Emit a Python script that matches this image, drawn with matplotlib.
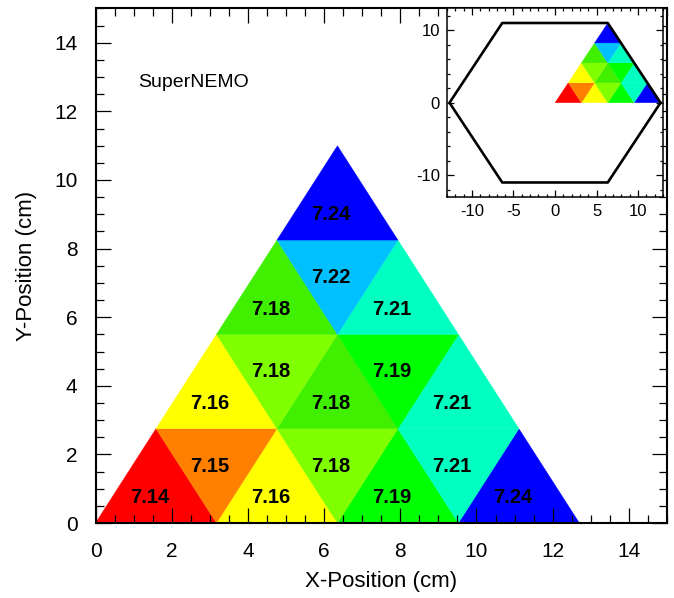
import numpy as np
import matplotlib.pyplot as plt
from matplotlib.patches import Polygon
from matplotlib.ticker import MultipleLocator

plt.rcParams['font.family'] = ['Liberation Sans', 'DejaVu Sans']
plt.rcParams['axes.unicode_minus'] = False

# Geometry of the SuperNEMO triangle (cm)
SIDE = 12.7
N_ROWS = 4

# Values per row, bottom to top: upward triangles, then downward triangles
up_values = [[7.14, 7.16, 7.19, 7.24],
             [7.16, 7.18, 7.21],
             [7.18, 7.21],
             [7.24]]
down_values = [[7.15, 7.18, 7.21],
               [7.18, 7.19],
               [7.22],
               []]
up_colors = [['#ff0000', '#ffff00', '#00ff00', '#0000ff'],
             ['#ffff00', '#40f000', '#00ffc0'],
             ['#40f000', '#00ffc0'],
             ['#0000ff']]
down_colors = [['#ff8000', '#80ff00', '#00ffc0'],
               ['#80ff00', '#00ff00'],
               ['#00c0ff'],
               []]

hexagon_x = [12.7, 6.35, -6.35, -12.7, -6.35, 6.35, 12.7]
hexagon_y = [0, 11, 11, 0, -11, -11, 0]

LABEL_SHIFT = (-0.17, -0.18)


def cells():
    a = SIDE / N_ROWS
    h = a * np.sqrt(3) / 2
    out = []
    for r in range(N_ROWS):
        y0 = r * h
        for i, (v, c) in enumerate(zip(up_values[r], up_colors[r])):
            x0 = r * a / 2 + i * a
            pts = [(x0, y0), (x0 + a, y0), (x0 + a / 2, y0 + h)]
            out.append((pts, v, c))
        for i, (v, c) in enumerate(zip(down_values[r], down_colors[r])):
            x0 = r * a / 2 + i * a
            pts = [(x0 + a / 2, y0 + h), (x0 + 3 * a / 2, y0 + h), (x0 + a, y0)]
            out.append((pts, v, c))
    return out


def style_axes(ax, lw, major, minor):
    for s in ax.spines.values():
        s.set_linewidth(lw)
    ax.tick_params(which='both', direction='in', top=True, right=True, width=0.9)
    ax.tick_params(which='major', length=major)
    ax.tick_params(which='minor', length=minor)


fig = plt.figure(figsize=(6.74, 5.98), dpi=100)
ax = fig.add_axes([0.1417, 0.1254, 0.8479, 0.8604])

for pts, v, c in cells():
    ax.add_patch(Polygon(pts, closed=True, facecolor=c, edgecolor=c, linewidth=0.3))
    cx = np.mean([p[0] for p in pts]) + LABEL_SHIFT[0]
    cy = np.mean([p[1] for p in pts]) + LABEL_SHIFT[1]
    ax.text(cx, cy, f'{v:.2f}', ha='center', va='center', fontsize=14.5,
            fontweight='bold', color='black')

ax.set_xlim(0, 15)
ax.set_ylim(0, 15)
ax.xaxis.set_major_locator(MultipleLocator(2))
ax.xaxis.set_minor_locator(MultipleLocator(0.5))
ax.yaxis.set_major_locator(MultipleLocator(2))
ax.yaxis.set_minor_locator(MultipleLocator(0.5))
style_axes(ax, 1.5, 11, 5.5)
ax.tick_params(labelsize=15)
ax.tick_params(axis='x', pad=14)
ax.tick_params(axis='y', pad=13)
ax.set_xlabel('X-Position (cm)', fontsize=16, labelpad=7)
ax.set_ylabel('Y-Position (cm)', fontsize=16, labelpad=12)
ax.text(1.13, 12.83, 'SuperNEMO', fontsize=14, ha='left', va='center')

# inset with the full hexagon
ins = fig.add_axes([0.6632, 0.6706, 0.3205, 0.3152])
for pts, v, c in cells():
    ins.add_patch(Polygon(pts, closed=True, facecolor=c, edgecolor=c, linewidth=0.2))
ins.plot(hexagon_x, hexagon_y, color='black', linewidth=1.9)
ins.set_xlim(-13, 13)
ins.set_ylim(-13, 13)
ins.xaxis.set_major_locator(MultipleLocator(5))
ins.xaxis.set_minor_locator(MultipleLocator(1))
ins.yaxis.set_major_locator(MultipleLocator(10))
ins.yaxis.set_minor_locator(MultipleLocator(2))
style_axes(ins, 1.1, 5, 2.5)
ins.tick_params(labelsize=12, pad=5)

fig.savefig('out.png', dpi=100)
